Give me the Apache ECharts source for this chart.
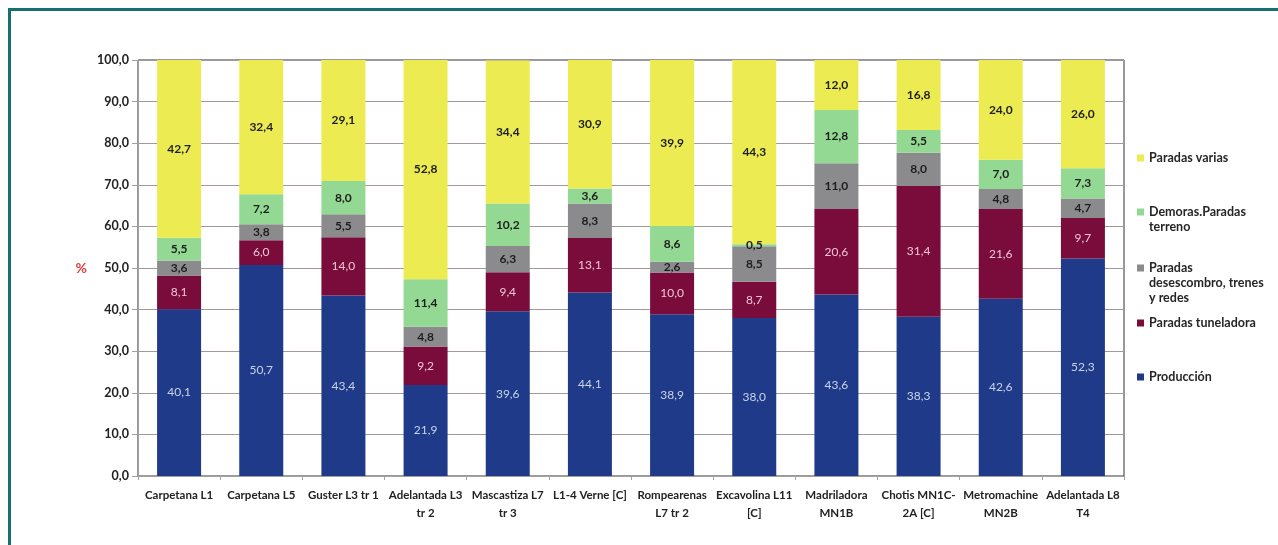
<!DOCTYPE html>
<html>
<head>
<meta charset="utf-8">
<script src="https://cdn.jsdelivr.net/npm/echarts@6/dist/echarts.min.js"></script>
<style>
  html, body { margin: 0; padding: 0; background: #ffffff; }
  #frame { position: absolute; left: 8px; top: 8px; width: 1270px; height: 537px;
           border-top: 3px solid #17706f; border-left: 3px solid #17706f; box-sizing: border-box; }
  #chart { position: absolute; left: 0; top: 0; width: 1278px; height: 545px; }
</style>
</head>
<body>
<div id="frame"></div>
<div id="chart"></div>
<script>
// Tunnel boring machines (bottom to top: production, then the stop categories)
const categories = [
  'Carpetana L1', 'Carpetana L5', 'Guster L3 tr 1', 'Adelantada L3\ntr 2',
  'Mascastiza L7\ntr 3', 'L1-4 Verne [C]', 'Rompearenas\nL7 tr 2', 'Excavolina L11\n[C]',
  'Madriladora\nMN1B', 'Chotis MN1C-\n2A [C]', 'Metromachine\nMN2B', 'Adelantada L8\nT4'
];
const produccion   = [40.1, 50.7, 43.4, 21.9, 39.6, 44.1, 38.9, 38.0, 43.6, 38.3, 42.6, 52.3];
const tuneladora   = [8.1, 6.0, 14.0, 9.2, 9.4, 13.1, 10.0, 8.7, 20.6, 31.4, 21.6, 9.7];
const desescombro  = [3.6, 3.8, 5.5, 4.8, 6.3, 8.3, 2.6, 8.5, 11.0, 8.0, 4.8, 4.7];
const demoras      = [5.5, 7.2, 8.0, 11.4, 10.2, 3.6, 8.6, 0.5, 12.8, 5.5, 7.0, 7.3];
const varias       = [42.7, 32.4, 29.1, 52.8, 34.4, 30.9, 39.9, 44.3, 12.0, 16.8, 24.0, 26.0];
const yTicks = [0, 10, 20, 30, 40, 50, 60, 70, 80, 90, 100];

const FONT = 'Lato, "Open Sans", sans-serif';
const fmt = v => v.toFixed(1).replace('.', ',');

const seriesDefs = [
  { name: 'Producción', data: produccion, color: '#1f3a88', labelColor: '#c9d3ea', weight: 'normal' },
  { name: 'Paradas tuneladora', data: tuneladora, color: '#7a0c3c', labelColor: '#f0c6d6', weight: 'normal' },
  { name: 'Paradas desescombro, trenes y redes', data: desescombro, color: '#8b8b8d', labelColor: '#1e1e1e', weight: 'bold' },
  { name: 'Demoras.Paradas terreno', data: demoras, color: '#93d993', labelColor: '#1e1e1e', weight: 'bold' },
  { name: 'Paradas varias', data: varias, color: '#ecec52', labelColor: '#1e1e1e', weight: 'bold' }
];

const series = seriesDefs.map(s => ({
  name: s.name,
  type: 'bar',
  stack: 'total',
  barWidth: 44,
  data: s.data,
  itemStyle: { color: s.color },
  label: {
    show: true,
    position: 'inside',
    color: s.labelColor,
    fontFamily: FONT,
    fontSize: 12,
    fontWeight: s.weight,
    formatter: p => fmt(p.value)
  },
  emphasis: { disabled: true }
}));

// Legend entries: wrapped lines, and the centre of the first line of each entry.
// Blank lines are put before the text so the swatch sits level with the first line.
const LH = 15;
const legendItems = [
  { name: 'Paradas varias', lines: ['Paradas varias'], y: 158 },
  { name: 'Demoras.Paradas terreno', lines: ['Demoras.Paradas', 'terreno'], y: 212 },
  { name: 'Paradas desescombro, trenes y redes', lines: ['Paradas', 'desescombro, trenes', 'y redes'], y: 268 },
  { name: 'Paradas tuneladora', lines: ['Paradas tuneladora'], y: 323 },
  { name: 'Producción', lines: ['Producción'], y: 377 }
];
const legends = legendItems.map(it => {
  const n = it.lines.length;
  const text = '\n'.repeat(n - 1) + it.lines.join('\n');
  return {
    left: 1137,
    top: it.y - (2 * n - 1) * LH / 2,
    orient: 'vertical',
    data: [it.name],
    icon: 'rect',
    itemWidth: 7,
    itemHeight: 7,
    itemGap: 0,
    padding: 0,
    selectedMode: false,
    formatter: () => text,
    textStyle: {
      fontFamily: FONT,
      fontSize: 12.5,
      fontWeight: 'bold',
      color: '#262626',
      lineHeight: LH
    }
  };
});

const chart = echarts.init(document.getElementById('chart'), null, { renderer: 'canvas' });
chart.setOption({
  animation: false,
  backgroundColor: 'transparent',
  grid: {
    left: 138, right: 154, top: 60, bottom: 69,
    show: true, borderColor: '#333333', borderWidth: 1, backgroundColor: 'transparent'
  },
  legend: legends,
  xAxis: {
    type: 'category',
    data: categories,
    axisLine: { lineStyle: { color: '#a0a0a0' } },
    axisTick: { show: true, length: 4, lineStyle: { color: '#a0a0a0' } },
    axisLabel: {
      interval: 0,
      margin: 10,
      fontFamily: FONT,
      fontSize: 11.5,
      fontWeight: 'bold',
      color: '#222222',
      lineHeight: 18
    }
  },
  yAxis: {
    type: 'value',
    min: yTicks[0],
    max: yTicks[yTicks.length - 1],
    interval: 10,
    name: '%',
    nameLocation: 'middle',
    nameRotate: 0,
    nameGap: 51,
    nameTextStyle: { color: '#e2403a', fontFamily: FONT, fontSize: 14, fontWeight: 'bold' },
    axisLine: { show: true, lineStyle: { color: '#a0a0a0' } },
    axisTick: { show: true, inside: false, length: 6, lineStyle: { color: '#a0a0a0' } },
    axisLabel: {
      margin: 9,
      fontFamily: FONT,
      fontSize: 12.5,
      fontWeight: 'bold',
      color: '#222222',
      formatter: v => fmt(v)
    },
    splitLine: { lineStyle: { color: '#a39898', width: 1 } }
  },
  series: series
});
</script>
</body>
</html>
